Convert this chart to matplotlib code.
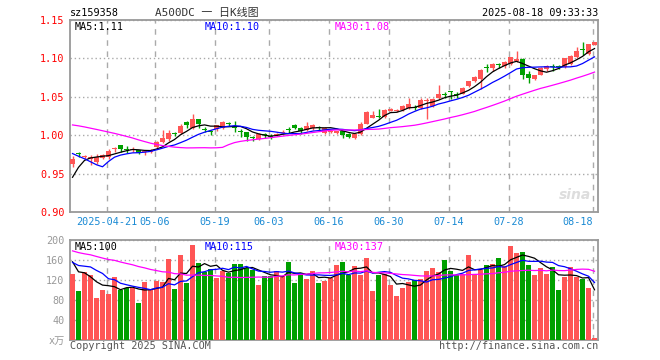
import numpy as np
import pandas as pd
import matplotlib
matplotlib.use("Agg")
import matplotlib.pyplot as plt

# ---------- data (88 trading days) ----------
opens = [0.963, 0.976, 0.971, 0.969, 0.965, 0.970, 0.971, 0.982, 0.987, 0.982,
         0.981, 0.981, 0.978, 0.978, 0.984, 0.991, 0.995, 1.002, 1.003, 1.017,
         1.009, 1.021, 1.008, 1.005, 1.008, 1.009, 1.015, 1.010, 1.005, 1.004,
         0.997, 0.995, 1.001, 0.999, 1.000, 1.003, 1.008, 1.013, 1.009, 1.007,
         1.009, 1.010, 1.003, 1.004, 1.003, 1.005, 1.001, 0.997, 1.001, 1.015,
         1.023, 1.025, 1.024, 1.032, 1.031, 1.033, 1.035, 1.037, 1.036, 1.045,
         1.038, 1.048, 1.053, 1.057, 1.053, 1.054, 1.064, 1.070, 1.073, 1.089,
         1.087, 1.093, 1.090, 1.093, 1.096, 1.099, 1.080, 1.073, 1.079, 1.086,
         1.090, 1.090, 1.089, 1.093, 1.102, 1.112, 1.106, 1.118]
highs = [0.973, 0.978, 0.974, 0.974, 0.975, 0.976, 0.982, 0.984, 0.987, 0.986,
         0.984, 0.981, 0.979, 0.982, 0.992, 1.007, 1.007, 1.004, 1.014, 1.018,
         1.027, 1.021, 1.011, 1.007, 1.013, 1.018, 1.017, 1.018, 1.008, 1.004,
         0.999, 1.003, 1.003, 1.001, 1.003, 1.007, 1.011, 1.014, 1.011, 1.017,
         1.014, 1.012, 1.011, 1.007, 1.006, 1.005, 1.003, 1.003, 1.017, 1.031,
         1.031, 1.034, 1.034, 1.036, 1.034, 1.039, 1.048, 1.039, 1.048, 1.049,
         1.048, 1.065, 1.056, 1.058, 1.056, 1.063, 1.071, 1.077, 1.086, 1.093,
         1.094, 1.094, 1.096, 1.102, 1.109, 1.100, 1.083, 1.078, 1.089, 1.091,
         1.093, 1.091, 1.101, 1.104, 1.115, 1.121, 1.119, 1.122]
lows = [0.958, 0.972, 0.969, 0.961, 0.963, 0.969, 0.969, 0.978, 0.978, 0.977,
        0.978, 0.975, 0.974, 0.977, 0.982, 0.990, 0.993, 0.999, 1.002, 1.009,
        1.008, 1.009, 1.004, 1.000, 1.006, 1.008, 1.012, 1.004, 0.998, 0.993,
        0.993, 0.994, 0.996, 0.995, 0.999, 1.001, 1.003, 1.008, 1.001, 1.005,
        1.007, 1.005, 1.002, 1.003, 1.002, 0.996, 0.997, 0.995, 1.000, 1.014,
        1.022, 1.022, 1.023, 1.031, 1.030, 1.032, 1.034, 1.033, 1.034, 1.021,
        1.037, 1.047, 1.048, 1.047, 1.048, 1.053, 1.063, 1.069, 1.060, 1.082,
        1.084, 1.088, 1.088, 1.091, 1.095, 1.073, 1.068, 1.072, 1.078, 1.084,
        1.084, 1.086, 1.088, 1.092, 1.101, 1.104, 1.104, 1.117]
closes = [0.969, 0.975, 0.972, 0.971, 0.971, 0.974, 0.979, 0.983, 0.982, 0.981,
          0.982, 0.977, 0.979, 0.981, 0.991, 0.996, 1.003, 1.001, 1.012, 1.013,
          1.021, 1.014, 1.007, 1.004, 1.013, 1.017, 1.014, 1.009, 1.004, 0.998,
          0.996, 1.002, 1.000, 0.998, 1.002, 1.004, 1.007, 1.010, 1.005, 1.012,
          1.013, 1.009, 1.009, 1.006, 1.005, 1.000, 0.998, 1.002, 1.015, 1.030,
          1.026, 1.024, 1.033, 1.034, 1.032, 1.038, 1.041, 1.036, 1.046, 1.046,
          1.047, 1.053, 1.052, 1.056, 1.052, 1.062, 1.070, 1.076, 1.085, 1.088,
          1.093, 1.092, 1.095, 1.102, 1.099, 1.079, 1.075, 1.078, 1.088, 1.090,
          1.089, 1.089, 1.100, 1.103, 1.110, 1.111, 1.119, 1.121]
# volume in 万
volumes = [133, 98, 136, 130, 85, 100, 92, 126, 100, 105,
           105, 74, 116, 103, 118, 117, 162, 102, 170, 114,
           190, 154, 136, 143, 125, 139, 135, 152, 152, 145,
           141, 110, 128, 128, 138, 128, 157, 115, 133, 123,
           138, 115, 119, 125, 151, 157, 131, 149, 130, 164,
           98, 130, 133, 110, 88, 104, 116, 120, 122, 138,
           144, 136, 160, 138, 130, 132, 171, 132, 140, 150,
           152, 164, 148, 188, 174, 176, 150, 130, 144, 132,
           146, 100, 126, 146, 126, 122, 104, 4]

# days before the first visible candle, only used to warm up the moving averages
prior_closes = [1.010, 1.015, 1.020, 1.020, 1.025, 1.030, 1.035, 1.040, 1.040, 1.045,
                1.050, 1.045, 1.045, 1.040, 1.040, 1.035, 1.030, 1.030, 1.025, 1.020,
                1.010, 1.005, 1.010, 1.010, 1.000, 0.910, 0.927, 0.955, 0.965]
prior_volumes = [200, 210, 190, 185, 195, 180, 175, 200, 190, 185,
                 180, 195, 200, 185, 190, 180, 195, 185, 190, 185,
                 160, 150, 145, 155, 160, 198, 146, 170, 135]

tick_idx = [6, 14, 24, 33, 43, 53, 63, 73, 87]
tick_labels = ["2025-04-21", "05-06", "05-19", "06-03", "06-16",
               "06-30", "07-14", "07-28", "08-18"]

# ---------- moving averages ----------
n = len(closes)
n_prior = len(prior_closes)
c_all = pd.Series(prior_closes + closes)
v_all = pd.Series(prior_volumes + volumes)
ma = {w: c_all.rolling(w).mean().to_numpy()[n_prior:] for w in (5, 10, 30)}
vma = {w: v_all.rolling(w).mean().to_numpy()[n_prior:] for w in (5, 10, 30)}

# ---------- styling ----------
RED = "#ff5555"
GREEN = "#00a000"
GRID = "#aaaaaa"
FRAME = "#999999"
MONO = ["DejaVu Sans Mono", "Noto Sans CJK SC"]
FS = 7.3

W, H = 660, 360
fig = plt.figure(figsize=(W / 100, H / 100), dpi=100)
fig.patch.set_facecolor("white")


def px(x, y):
    return x / W, 1 - y / H


ax = fig.add_axes([70 / W, 1 - 212 / H, 528 / W, 192 / H])
axv = fig.add_axes([70 / W, 1 - 340 / H, 528 / W, 100 / H])

x = np.arange(n)
o = np.array(opens)
c = np.array(closes)
up = c >= o
cols = np.where(up, RED, GREEN)

# candles
ax.vlines(x, lows, highs, colors=cols, lw=1, zorder=3)
body = np.maximum(np.abs(c - o), 0.0013)
ax.bar(x, body, bottom=np.minimum(o, c), width=0.72, color=cols, lw=0, zorder=4)
ax.plot(x, ma[5], color="black", lw=0.9, zorder=5)
ax.plot(x, ma[10], color="#0000ff", lw=0.9, zorder=5)
ax.plot(x, ma[30], color="#ff00ff", lw=0.9, zorder=5)

# volume
axv.bar(x, volumes, width=0.85, color=cols, lw=0, zorder=3)
axv.plot(x, vma[5], color="black", lw=0.9, zorder=5)
axv.plot(x, vma[10], color="#0000ff", lw=0.9, zorder=5)
axv.plot(x, vma[30], color="#ff00ff", lw=0.9, zorder=5)

for a in (ax, axv):
    a.set_xlim(-0.42, n - 0.42)
    a.set_xticks([])
    for s in a.spines.values():
        s.set_color(FRAME)
        s.set_linewidth(1.3)
    for t in tick_idx:
        a.axvline(t - 0.3, color=GRID, lw=1, ls=(0, (4, 4)), zorder=1)
    a.grid(axis="y", color=GRID, lw=1, ls=(0, (1, 2)), zorder=1)
    a.set_axisbelow(True)
    a.tick_params(axis="y", length=0, pad=4)

ax.set_ylim(0.90, 1.15)
pticks = [0.90, 0.95, 1.00, 1.05, 1.10, 1.15]
ax.set_yticks(pticks)
ax.set_yticklabels([f"{p:.2f}" for p in pticks], color="red", fontsize=FS, family=MONO)

axv.set_ylim(0, 200)
vticks = [0, 40, 80, 120, 160, 200]
axv.set_yticks(vticks)
axv.set_yticklabels(["x万"] + [str(v) for v in vticks[1:]], color="#999999",
                    fontsize=FS, family=MONO)

# date labels under the price panel
for t, lab in zip(tick_idx, tick_labels):
    ha = "right" if t == tick_idx[-1] else "center"
    ax.text(t - 0.3, -0.052, lab, transform=ax.get_xaxis_transform(), ha=ha,
            va="center", color="#1a8ad4", fontsize=FS, family=MONO)

# header
fig.text(*px(70, 13), "sz159358", ha="left", va="center", fontsize=FS, family=MONO)
fig.text(*px(207, 13), "A500DC 一 日K线图", ha="center", va="center", color="#333333",
         fontsize=FS + 0.6, family=MONO)
fig.text(*px(598, 13), "2025-08-18 09:33:33", ha="right", va="center", fontsize=FS, family=MONO)

# MA legends
for xx, txt, col in [(75, "MA5:1.11", "black"), (205, "MA10:1.10", "#0000ff"),
                     (335, "MA30:1.08", "#ff00ff")]:
    fig.text(*px(xx, 26.5), txt, ha="left", va="center", color=col, fontsize=FS, family=MONO)
for xx, txt, col in [(75, "MA5:100", "black"), (205, "MA10:115", "#0000ff"),
                     (335, "MA30:137", "#ff00ff")]:
    fig.text(*px(xx, 246.5), txt, ha="left", va="center", color=col, fontsize=FS, family=MONO)

# watermark + footer
fig.text(*px(575, 195), "sina", ha="center", va="center", color="#dddddd",
         fontsize=10, style="italic", weight="bold")
fig.text(*px(70, 346), "Copyright 2025 SINA.COM", ha="left", va="center",
         color="#555555", fontsize=FS, family=MONO)
fig.text(*px(598, 346), "http://finance.sina.com.cn", ha="right", va="center",
         color="#555555", fontsize=FS, family=MONO)

fig.savefig("out.png", dpi=100)
